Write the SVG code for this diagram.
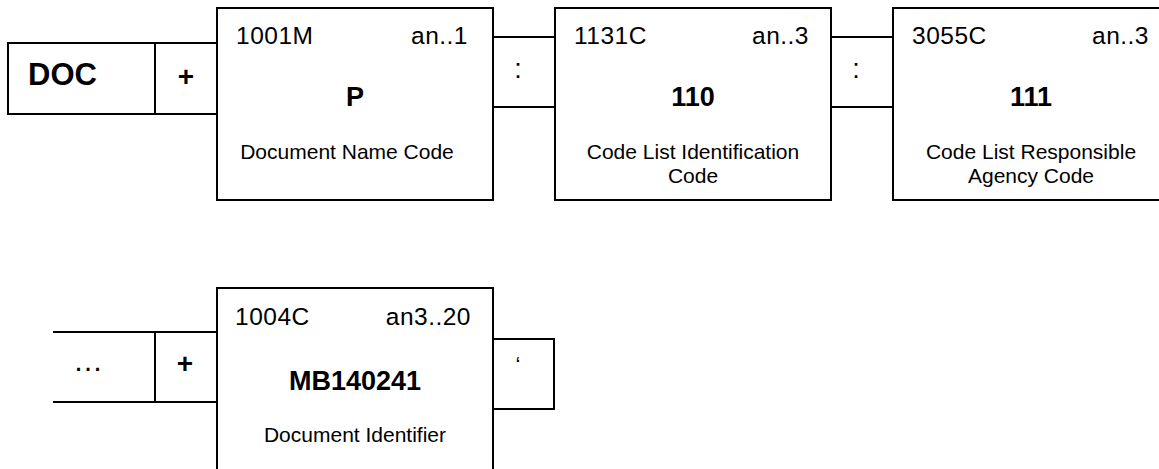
<svg xmlns="http://www.w3.org/2000/svg" width="1159" height="469" viewBox="0 0 1159 469">
<style>
.b{fill:#fff;stroke:#000;stroke-width:2}
.l{fill:none;stroke:#000;stroke-width:2}
text{font-family:"Liberation Sans",Arial,sans-serif;fill:#000}
.h{font-size:24.5px;letter-spacing:0.5px}
.v{font-size:27px;font-weight:bold;text-anchor:middle}
.d{font-size:21px;text-anchor:middle}
.s{font-size:27px;text-anchor:middle}
.p{font-size:28px;font-weight:bold;text-anchor:middle}
.e{text-anchor:end}
</style>
<rect width="1159" height="469" fill="#fff"/>
<g id="connectors">
<line class="l" x1="493" y1="37" x2="555" y2="37"/>
<line class="l" x1="493" y1="107" x2="555" y2="107"/>
<line class="l" x1="831" y1="37" x2="893" y2="37"/>
<line class="l" x1="831" y1="107" x2="893" y2="107"/>
<text class="s" x="518" y="78">:</text>
<text class="s" x="856" y="78">:</text>
</g>
<g id="doc">
<rect class="b" x="8" y="43" width="209" height="71"/>
<line class="l" x1="155" y1="43" x2="155" y2="114"/>
<text x="28" y="85" font-size="31" font-weight="bold">DOC</text>
<text class="p" x="186" y="86">+</text>
</g>
<g id="e1001">
<rect class="b" x="217" y="8" width="276" height="192"/>
<text class="h" x="236" y="44">1001M</text>
<text class="h e" x="468" y="44">an..1</text>
<text class="v" x="355" y="106">P</text>
<text class="d" x="347" y="159">Document Name Code</text>
</g>
<g id="e1131">
<rect class="b" x="555" y="8" width="276" height="192"/>
<text class="h" x="574" y="44">1131C</text>
<text class="h e" x="809" y="44">an..3</text>
<text class="v" x="693" y="106">110</text>
<text class="d" x="693" y="159">Code List Identification</text>
<text class="d" x="693" y="183">Code</text>
</g>
<g id="e3055">
<rect class="b" x="893" y="8" width="276" height="192"/>
<text class="h" x="912" y="44">3055C</text>
<text class="h e" x="1149" y="44">an..3</text>
<text class="v" x="1031" y="106">111</text>
<text class="d" x="1031" y="159">Code List Responsible</text>
<text class="d" x="1031" y="183">Agency Code</text>
</g>
<g id="cont">
<line class="l" x1="53" y1="332" x2="217" y2="332"/>
<line class="l" x1="53" y1="402" x2="217" y2="402"/>
<line class="l" x1="155" y1="332" x2="155" y2="402"/>
<text x="88" y="371" font-size="30" text-anchor="middle">…</text>
<text class="p" x="185" y="373">+</text>
</g>
<g id="e1004">
<rect class="b" x="217" y="288" width="276" height="200"/>
<text class="h" x="235" y="325">1004C</text>
<text class="h e" x="471" y="325">an3..20</text>
<text class="v" x="355" y="390">MB140241</text>
<text class="d" x="355" y="442">Document Identifier</text>
</g>
<g id="term">
<rect class="b" x="493" y="339" width="61" height="70"/>
<text x="518" y="372" font-size="22" text-anchor="middle">‘</text>
</g>
</svg>
